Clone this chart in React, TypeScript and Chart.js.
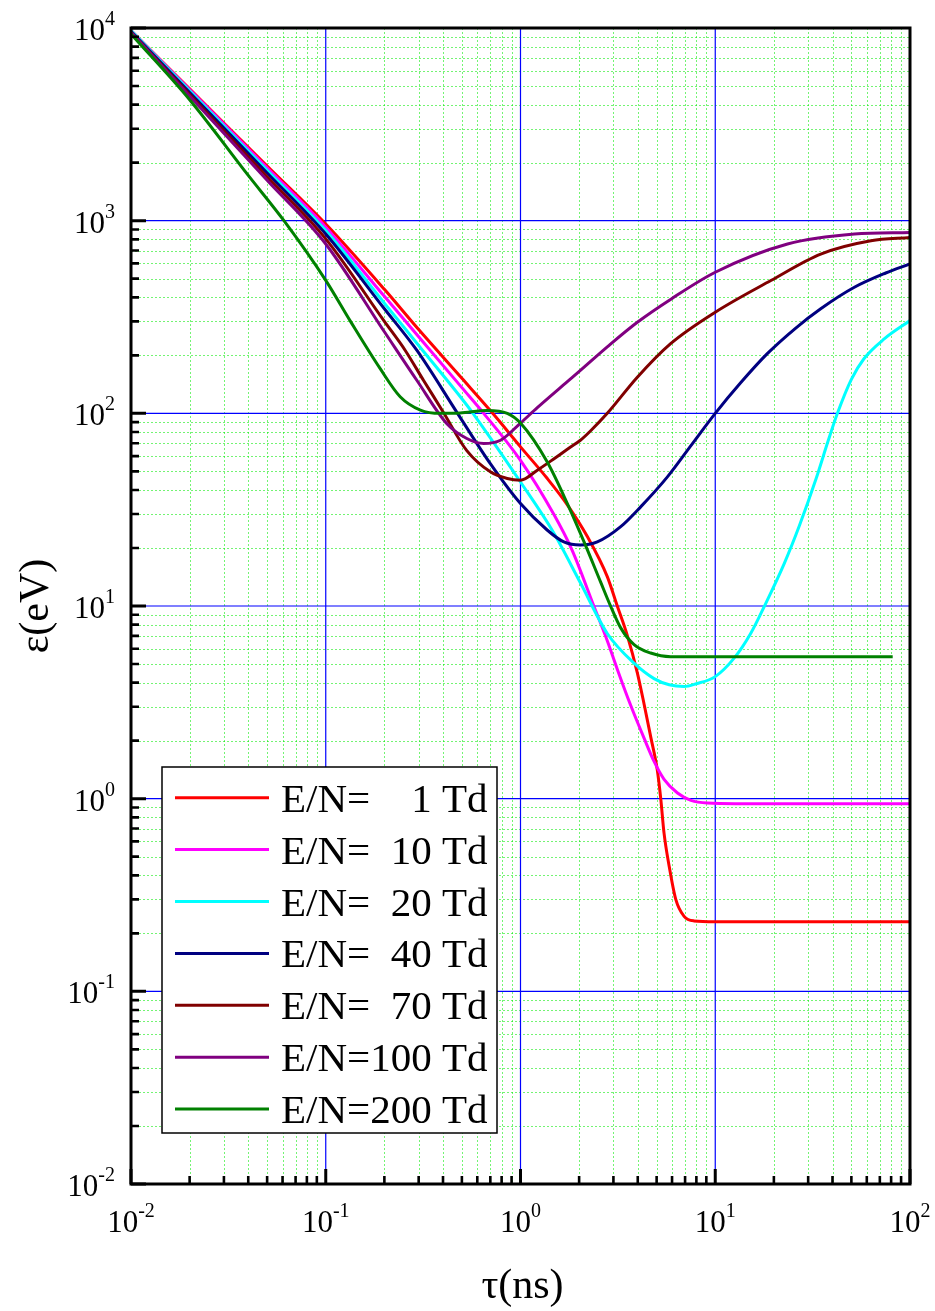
import React, { useEffect, useRef } from "react";
import { Chart, registerables } from "chart.js";

Chart.register(...registerables);

const FONT = '"Liberation Serif", "Times New Roman", serif';

// ---- data (tau in ns, epsilon in eV) ----
const tau1 = [0.01, 0.02, 0.05, 0.1, 0.2, 0.3, 0.5, 0.72, 1.0, 1.37, 1.74, 2.2, 2.79, 3.14, 3.54, 3.98, 4.31, 4.66, 5.04, 5.25, 5.46, 5.79, 6.27, 6.92, 7.78, 10, 30, 100];
const eps1 = [9700, 4830, 1920, 960, 440, 272, 152, 100, 67, 46, 33.5, 23, 14.2, 10, 7, 4.5, 3.1, 2.1, 1.41, 1.0, 0.66, 0.45, 0.3, 0.245, 0.232, 0.23, 0.23, 0.23];

const tau10 = [0.01, 0.02, 0.05, 0.1, 0.2, 0.3, 0.5, 0.647, 1.0, 1.48, 1.84, 2.38, 2.79, 3.14, 3.67, 4.31, 4.85, 5.46, 6.4, 7.5, 9.1, 20, 100];
const eps10 = [9700, 4785, 1882, 925, 405, 250, 136, 100, 57, 30, 19.5, 10.0, 6.6, 4.7, 3.07, 2.06, 1.56, 1.26, 1.07, 0.98, 0.95, 0.94, 0.94];

const tau20 = [0.01, 0.02, 0.05, 0.1, 0.2, 0.3, 0.5, 0.57, 1.0, 1.48, 2.03, 2.79, 3.83, 4.85, 5.8, 6.92, 8, 10, 12.5, 15.2, 17.9, 22.6, 27, 33, 38, 42.4, 50, 58, 74, 100];
const eps20 = [9700, 4725, 1826, 888, 373, 225, 119, 100, 44, 24, 13.2, 7.2, 5.05, 4.2, 3.9, 3.82, 3.95, 4.3, 5.36, 7.2, 10, 16.6, 26, 46, 72, 100, 150, 192, 244, 303];

const tau40 = [0.01, 0.02, 0.05, 0.1, 0.2, 0.294, 0.475, 0.7, 1.0, 1.37, 1.67, 2.03, 2.48, 3.27, 4.14, 5.68, 7.5, 10, 13.5, 18.5, 26, 34.8, 51.8, 75, 100];
const eps40 = [9600, 4630, 1768, 853, 349, 212, 100, 54.8, 34, 24.8, 21.5, 20.7, 21.5, 25.8, 32.7, 46.8, 68, 100, 144, 204, 278, 349, 451, 535, 597];

const tau70 = [0.01, 0.02, 0.05, 0.1, 0.2, 0.256, 0.318, 0.4, 0.53, 0.7, 0.855, 1.0, 1.22, 1.5, 1.8, 2.03, 2.3, 2.79, 3.98, 5.9, 10, 19.3, 34.8, 63, 100];
const eps70 = [9500, 4518, 1690, 804, 300, 212, 148, 102, 64, 49.7, 45.9, 45, 50.7, 58.5, 66.7, 72.5, 81.5, 100, 154, 230, 335, 489, 671, 787, 819];

const tau100 = [0.01, 0.02, 0.05, 0.1, 0.2, 0.294, 0.42, 0.53, 0.647, 0.79, 1.0, 1.22, 1.74, 2.03, 2.8, 3.98, 6, 10, 23.5, 51.8, 100];
const eps100 = [9500, 4437, 1623, 757, 265, 148, 88, 74, 69.7, 72.5, 89, 107, 146, 167, 222, 297, 395, 540, 757, 853, 869];

const tau200 = [0.01, 0.02, 0.04, 0.061, 0.1, 0.134, 0.19, 0.241, 0.306, 0.388, 0.49, 0.674, 0.855, 1.0, 1.37, 1.74, 2.12, 2.58, 2.9, 3.27, 3.83, 4.66, 5.9, 10, 81.5];
const eps200 = [9300, 4240, 1717, 1000, 490, 300, 171, 122, 104, 100, 100.5, 103.5, 100, 89, 56, 34, 21.5, 13.3, 10, 7.7, 6.3, 5.7, 5.46, 5.46, 5.46];

const seriesTau = [tau1, tau10, tau20, tau40, tau70, tau100, tau200];
const seriesEps = [eps1, eps10, eps20, eps40, eps70, eps100, eps200];
const seriesLabels = ["E/N=    1 Td", "E/N=  10 Td", "E/N=  20 Td", "E/N=  40 Td", "E/N=  70 Td", "E/N=100 Td", "E/N=200 Td"];
const seriesColors = ["#ff0000", "#ff00ff", "#00ffff", "#000080", "#800000", "#800080", "#008000"];

const xTickExps = [-2, -1, 0, 1, 2];
const yTickExps = [-2, -1, 0, 1, 2, 3, 4];
const xTitle = "τ(ns)";
const yTitle = "ε(eV)";

function drawPow(ctx: CanvasRenderingContext2D, exp: number, x: number, baseline: number, align: "right" | "center") {
  const base = "10";
  const sup = String(exp);
  ctx.font = `31px ${FONT}`;
  const wb = ctx.measureText(base).width;
  ctx.font = `20px ${FONT}`;
  const ws = ctx.measureText(sup).width;
  const total = wb + ws;
  const left = align === "right" ? x - total : x - total / 2;
  ctx.textAlign = "left";
  ctx.textBaseline = "alphabetic";
  ctx.fillStyle = "#000";
  ctx.font = `31px ${FONT}`;
  ctx.fillText(base, left, baseline);
  ctx.font = `20px ${FONT}`;
  ctx.fillText(sup, left + wb, baseline - 15);
}

const framePlugin = {
  id: "framePlugin",
  beforeDatasetsDraw(chart: any) {
    const { ctx, chartArea: a, scales } = chart;
    const xs = scales.x;
    const ys = scales.y;
    ctx.save();
    // minor grid
    ctx.beginPath();
    ctx.setLineDash([2, 2]);
    ctx.strokeStyle = "rgba(0,235,0,0.55)";
    ctx.lineWidth = 1;
    for (let d = xTickExps[0]; d < xTickExps[xTickExps.length - 1]; d++) {
      for (let m = 2; m <= 9; m++) {
        const px = Math.round(xs.getPixelForValue(m * Math.pow(10, d))) + 0.5;
        ctx.moveTo(px, a.top);
        ctx.lineTo(px, a.bottom);
      }
    }
    for (let d = yTickExps[0]; d < yTickExps[yTickExps.length - 1]; d++) {
      for (let m = 2; m <= 9; m++) {
        const py = Math.round(ys.getPixelForValue(m * Math.pow(10, d))) + 0.5;
        ctx.moveTo(a.left, py);
        ctx.lineTo(a.right, py);
      }
    }
    ctx.stroke();
    // major grid
    ctx.setLineDash([]);
    ctx.beginPath();
    ctx.strokeStyle = "#0000ff";
    ctx.lineWidth = 1.2;
    xTickExps.forEach((e) => {
      const px = xs.getPixelForValue(Math.pow(10, e));
      ctx.moveTo(px, a.top);
      ctx.lineTo(px, a.bottom);
    });
    yTickExps.forEach((e) => {
      const py = ys.getPixelForValue(Math.pow(10, e));
      ctx.moveTo(a.left, py);
      ctx.lineTo(a.right, py);
    });
    ctx.stroke();
    ctx.restore();
  },
  afterDatasetsDraw(chart: any) {
    const { ctx, chartArea: a, scales } = chart;
    const xs = scales.x;
    const ys = scales.y;
    ctx.save();
    ctx.setLineDash([]);
    // frame
    ctx.strokeStyle = "#000";
    ctx.lineWidth = 3;
    ctx.strokeRect(a.left, a.top, a.right - a.left, a.bottom - a.top);
    // ticks
    ctx.beginPath();
    ctx.lineWidth = 3;
    yTickExps.forEach((e) => {
      const py = ys.getPixelForValue(Math.pow(10, e));
      ctx.moveTo(a.left, py);
      ctx.lineTo(a.left + 15, py);
    });
    xTickExps.forEach((e) => {
      const px = xs.getPixelForValue(Math.pow(10, e));
      ctx.moveTo(px, a.bottom);
      ctx.lineTo(px, a.bottom - 15);
    });
    ctx.stroke();
    ctx.beginPath();
    ctx.lineWidth = 2.6;
    for (let d = yTickExps[0]; d < yTickExps[yTickExps.length - 1]; d++) {
      for (let m = 2; m <= 9; m++) {
        const py = ys.getPixelForValue(m * Math.pow(10, d));
        ctx.moveTo(a.left, py);
        ctx.lineTo(a.left + 8, py);
      }
    }
    for (let d = xTickExps[0]; d < xTickExps[xTickExps.length - 1]; d++) {
      for (let m = 2; m <= 9; m++) {
        const px = xs.getPixelForValue(m * Math.pow(10, d));
        ctx.moveTo(px, a.bottom);
        ctx.lineTo(px, a.bottom - 8);
      }
    }
    ctx.stroke();
    // tick labels
    yTickExps.forEach((e) => {
      const py = ys.getPixelForValue(Math.pow(10, e));
      drawPow(ctx, e, a.left - 16, py + 12, "right");
    });
    xTickExps.forEach((e) => {
      const px = xs.getPixelForValue(Math.pow(10, e));
      drawPow(ctx, e, px, a.bottom + 48, "center");
    });
    // axis titles
    ctx.fillStyle = "#000";
    ctx.font = `42px ${FONT}`;
    ctx.textAlign = "center";
    ctx.textBaseline = "alphabetic";
    ctx.fillText(xTitle, (a.left + a.right) / 2 + 2, a.bottom + 114);
    ctx.save();
    ctx.translate(48, (a.top + a.bottom) / 2);
    ctx.rotate(-Math.PI / 2);
    ctx.fillText(yTitle, 0, 0);
    ctx.restore();
    // legend
    const lx = a.left + 31;
    const ly = 767;
    const lw = 335;
    const lh = 366;
    ctx.fillStyle = "#fff";
    ctx.fillRect(lx, ly, lw, lh);
    ctx.strokeStyle = "#000";
    ctx.lineWidth = 1.5;
    ctx.strokeRect(lx, ly, lw, lh);
    seriesLabels.forEach((label, i) => {
      const ry = 797.7 + i * 51.9;
      ctx.beginPath();
      ctx.strokeStyle = seriesColors[i];
      ctx.lineWidth = 3;
      ctx.moveTo(lx + 13, ry);
      ctx.lineTo(lx + 107, ry);
      ctx.stroke();
      ctx.fillStyle = "#000";
      ctx.font = `41px ${FONT}`;
      ctx.textAlign = "left";
      ctx.textBaseline = "alphabetic";
      ctx.fillText(label, lx + 119, ry + 14);
    });
    ctx.restore();
  },
};

export default function App() {
  const ref = useRef<HTMLCanvasElement | null>(null);
  useEffect(() => {
    document.body.style.margin = "0";
    const canvas = ref.current;
    if (!canvas) return;
    const datasets = seriesTau.map((taus, i) => ({
      label: seriesLabels[i],
      data: taus.map((t, j) => ({ x: t, y: seriesEps[i][j] })),
      borderColor: seriesColors[i],
      backgroundColor: seriesColors[i],
      borderWidth: 3,
      pointRadius: 0,
      fill: false,
      cubicInterpolationMode: "monotone" as const,
      order: seriesTau.length - i,
    }));
    const chart = new Chart(canvas, {
      type: "line",
      data: { datasets },
      options: {
        responsive: false,
        animation: false,
        devicePixelRatio: 1,
        parsing: false as any,
        layout: { padding: { left: 131, top: 28, right: 25, bottom: 127 } },
        plugins: { legend: { display: false }, tooltip: { enabled: false } },
        scales: {
          x: { type: "logarithmic", min: 0.01, max: 100, display: false },
          y: { type: "logarithmic", min: 0.01, max: 10000, display: false },
        },
      },
      plugins: [framePlugin],
    });
    return () => chart.destroy();
  }, []);
  return (
    <div style={{ position: "absolute", left: 0, top: 0, width: 935, height: 1311, background: "#fff" }}>
      <canvas ref={ref} width={935} height={1311} style={{ width: 935, height: 1311, display: "block" }} />
    </div>
  );
}
